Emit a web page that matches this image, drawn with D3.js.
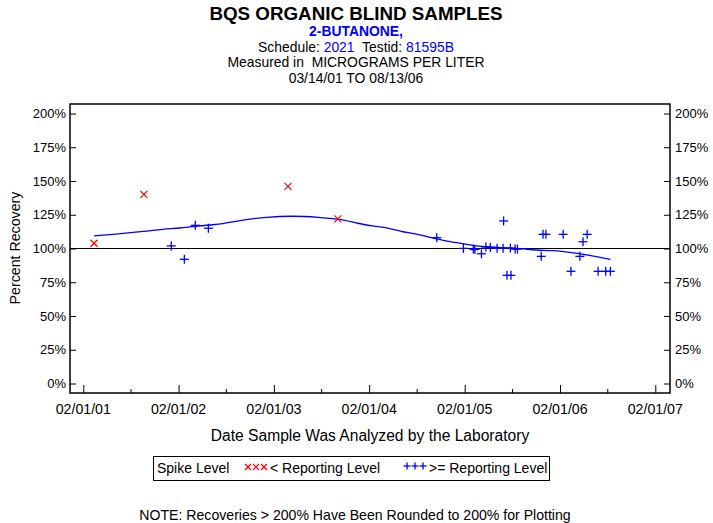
<!DOCTYPE html>
<html><head><meta charset="utf-8">
<script src="https://cdn.jsdelivr.net/npm/d3@7"></script>
<style>body{margin:0;background:#fff}svg{display:block}text{font-family:"Liberation Sans",Arial,sans-serif;white-space:pre}</style>
</head><body><svg id="c" width="713" height="523"></svg>
<script>
// ---- data ----
const belowDates = ["2001-03-14","2001-09-21","2003-03-27","2003-10-04"];
const belowValues = [103.9,140.1,146.0,122.0];
const aboveDates = ["2002-01-04","2002-02-23","2002-04-06","2002-05-26","2004-10-17","2005-01-27","2005-03-06","2005-03-12","2005-04-06","2005-04-23","2005-05-10","2005-06-05","2005-06-28","2005-06-30","2005-07-13","2005-07-28","2005-07-26","2005-08-13","2005-08-22","2005-11-21","2005-11-28","2005-12-09","2006-02-13","2006-03-15","2006-04-18","2006-04-30","2006-05-16","2006-06-27","2006-07-26","2006-08-13"];
const aboveValues = [101.9,92.0,117.2,115.0,108.0,100.1,99.6,99.2,96.1,101.1,100.8,100.1,100.1,120.4,80.1,80.1,100.3,99.6,99.6,94.2,110.5,110.5,110.5,83.1,94.2,105.0,110.5,83.1,83.1,83.1];
const trendDates = ["2001-03-14","2001-05-25","2001-07-22","2001-09-21","2001-12-03","2002-02-06","2002-04-05","2002-06-01","2002-07-21","2002-08-20","2002-11-09","2003-01-05","2003-04-11","2003-07-20","2003-09-15","2003-10-30","2003-12-19","2004-02-15","2004-04-20","2004-06-10","2004-07-31","2004-09-20","2004-11-10","2005-01-01","2005-02-09","2005-03-19","2005-05-08","2005-06-28","2005-08-31","2005-11-03","2006-01-06","2006-03-24","2006-05-14","2006-07-04","2006-08-13"];
const trendValues = [109.3,110.5,111.5,112.7,114.2,115.2,116.4,117.4,118.5,119.5,121.9,123.1,123.9,123.1,122.1,120.9,118.7,116.7,114.8,112.4,110.7,108.3,106.1,104.3,103.1,101.9,101.1,100.6,99.9,98.9,98.4,96.7,95.2,93.5,92.0];
const xTickLabels = ["02/01/01","02/01/02","02/01/03","02/01/04","02/01/05","02/01/06","02/01/07"];
const yTickValues = [0,25,50,75,100,125,150,175,200];

// ---- layout ----
const svg = d3.select("#c");
const parse = d3.timeParse("%Y-%m-%d");
const tick = d3.timeParse("%m/%d/%y");
const L = 70, R = 670, T = 104, B = 393;
const x = d3.scaleTime().domain([tick("02/01/01"), tick("02/01/07")]).range([83.3, 655.3]);
const y = d3.scaleLinear().domain([0, 200]).range([383.5, 113.5]);

// titles
const cx = 356;
svg.append("text").attr("x", cx).attr("y", 20).attr("text-anchor","middle").attr("font-size",18.8).attr("font-weight","bold").text("BQS ORGANIC BLIND SAMPLES");
svg.append("text").attr("x", cx).attr("y", 36).attr("text-anchor","middle").attr("font-size",13.9).attr("font-weight","bold").attr("fill","#0000ff").text("2-BUTANONE,");
const t3 = svg.append("text").attr("x", cx).attr("y", 52).attr("text-anchor","middle").attr("font-size",13.9);
t3.append("tspan").text("Schedule: ");
t3.append("tspan").attr("fill","#0000ff").text("2021");
t3.append("tspan").text("  Testid: ");
t3.append("tspan").attr("fill","#0000ff").text("81595B");
svg.append("text").attr("x", cx).attr("y", 67).attr("text-anchor","middle").attr("font-size",13.9).text("Measured in  MICROGRAMS PER LITER");
svg.append("text").attr("x", cx).attr("y", 83).attr("text-anchor","middle").attr("font-size",13.9).text("03/14/01 TO 08/13/06");

// frame
svg.append("rect").attr("x",L).attr("y",T).attr("width",R-L).attr("height",B-T).attr("fill","none").attr("stroke","#000").attr("stroke-width",1.5);

// y axes (ticks inward)
const fmt = d => d + "%";
const yl = svg.append("g").attr("transform",`translate(${L},0)`).call(d3.axisRight(y).tickValues(yTickValues).tickSize(6).tickFormat(""));
const yr = svg.append("g").attr("transform",`translate(${R},0)`).call(d3.axisLeft(y).tickValues(yTickValues).tickSize(6).tickFormat(""));
[yl, yr].forEach(g => { g.select(".domain").remove(); g.selectAll("line").attr("stroke","#000"); });
yTickValues.forEach(v => {
  svg.append("text").attr("x", L-4).attr("y", y(v)+4.7).attr("text-anchor","end").attr("font-size",13).text(fmt(v));
  svg.append("text").attr("x", R+5).attr("y", y(v)+4.7).attr("text-anchor","start").attr("font-size",13).text(fmt(v));
});

// x axis: major ticks yearly, minor half-yearly
const majors = xTickLabels.map(tick);
const minors = majors.slice(0,-1).map(d => d3.timeMonth.offset(d, 6));
const xa = svg.append("g").attr("transform",`translate(0,${B})`).call(d3.axisTop(x).tickValues(majors).tickSize(8).tickFormat(""));
const xm = svg.append("g").attr("transform",`translate(0,${B})`).call(d3.axisTop(x).tickValues(minors).tickSize(4).tickFormat(""));
[xa, xm].forEach(g => { g.select(".domain").remove(); g.selectAll("line").attr("stroke","#000"); });
majors.forEach((d,i) => {
  svg.append("text").attr("x", x(d)).attr("y", 414).attr("text-anchor","middle").attr("font-size",14.2).text(xTickLabels[i]);
});

// axis titles
svg.append("text").attr("x", 370).attr("y", 441).attr("text-anchor","middle").attr("font-size",15.6).text("Date Sample Was Analyzed by the Laboratory");
svg.append("text").attr("transform","translate(20,248) rotate(-90)").attr("text-anchor","middle").attr("font-size",14.2).text("Percent Recovery");

// 100% reference line
svg.append("line").attr("x1",L).attr("x2",R).attr("y1",y(100)).attr("y2",y(100)).attr("stroke","#000").attr("stroke-width",1.2);

// trend line
const line = d3.line().x((d,i) => x(parse(trendDates[i]))).y(d => y(d)).curve(d3.curveMonotoneX);
svg.append("path").attr("d", line(trendValues)).attr("fill","none").attr("stroke","#0000ff").attr("stroke-width",1.3);

// markers
function plus(g, px, py, s, c) {
  g.append("line").attr("x1",px-s).attr("x2",px+s).attr("y1",py).attr("y2",py).attr("stroke",c).attr("stroke-width",1.3);
  g.append("line").attr("x1",px).attr("x2",px).attr("y1",py-s).attr("y2",py+s).attr("stroke",c).attr("stroke-width",1.3);
}
function cross(g, px, py, s, c) {
  g.append("line").attr("x1",px-s).attr("x2",px+s).attr("y1",py-s).attr("y2",py+s).attr("stroke",c).attr("stroke-width",1.2);
  g.append("line").attr("x1",px-s).attr("x2",px+s).attr("y1",py+s).attr("y2",py-s).attr("stroke",c).attr("stroke-width",1.2);
}
const mg = svg.append("g");
aboveDates.forEach((d,i) => plus(mg, x(parse(d)), y(aboveValues[i]), 4.5, "#0000ff"));
belowDates.forEach((d,i) => cross(mg, x(parse(d)), y(belowValues[i]), 3.5, "#ff0000"));

// legend
svg.append("rect").attr("x",153.5).attr("y",456.5).attr("width",396).attr("height",24).attr("fill","none").attr("stroke","#000").attr("stroke-width",1);
svg.append("text").attr("x",157).attr("y",473).attr("font-size",14).text("Spike Level");
[248,256,264].forEach(px => cross(svg, px, 467, 3, "#ff0000"));
svg.append("text").attr("x",270).attr("y",473).attr("font-size",14).text("< Reporting Level");
[407,415,423].forEach(px => plus(svg, px, 466, 3.5, "#0000ff"));
svg.append("text").attr("x",429).attr("y",473).attr("font-size",14).text(">= Reporting Level");

// note
svg.append("text").attr("x",355).attr("y",520).attr("text-anchor","middle").attr("font-size",14.1).text("NOTE: Recoveries > 200% Have Been Rounded to 200% for Plotting");
</script></body></html>
